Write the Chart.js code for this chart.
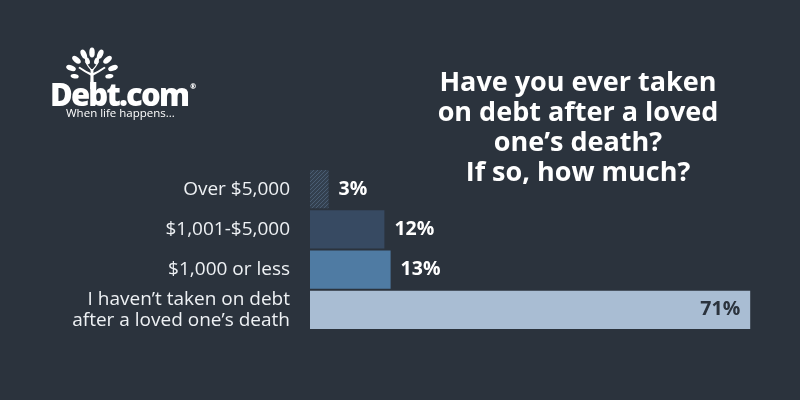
<!DOCTYPE html>
<html>
<head>
<meta charset="utf-8">
<script src="https://cdn.jsdelivr.net/npm/chart.js@4.4.0/dist/chart.umd.min.js"></script>
<style>
  html, body { margin: 0; padding: 0; background: #2b333d; }
  #wrap { position: relative; width: 800px; height: 400px; background: #2b333d; overflow: hidden; }
  #myChart { position: absolute; left: 0; top: 0; }
  .title {
    position: absolute; left: 413px; top: 66px; width: 330px;
    text-align: center; color: #ffffff;
    font: bold 27px "Open Sans", sans-serif; line-height: 30px;
  }
  .logo { position: absolute; left: 48px; top: 44px; width: 150px; color: #fff; font-family: "Open Sans", sans-serif; }
  .logo .name { position: absolute; left: 2px; top: 29px; font-weight: 800; font-size: 31px; letter-spacing: -1.8px; }
  .logo .name sup { font-size: 7px; vertical-align: top; position: relative; top: 9px; letter-spacing: 0; margin-left: 2px; }
  .logo .tag { position: absolute; left: 18px; top: 61px; font-size: 11.5px; white-space: nowrap; }
  .logo svg { position: absolute; left: 14px; top: 3px; }
</style>
</head>
<body>
<div id="wrap">
  <canvas id="myChart" width="800" height="400"></canvas>
  <div class="logo">
    <svg width="60" height="42" viewBox="0 0 60 46">
      <g fill="#fff">
        <path d="M28 46 L32 46 L31.5 24 L28.5 24 Z"/>
        <path d="M30 32 Q22 28 15 23 L16.5 21.5 Q23 26 30 29 Z"/>
        <path d="M30 32 Q38 28 45 23 L43.5 21.5 Q37 26 30 29 Z"/>
        <path d="M30 27 Q25 22 22 16 L23.5 15.5 Q26 21 30 25 Z"/>
        <path d="M30 27 Q35 22 38 16 L36.5 15.5 Q34 21 30 25 Z"/>
        <ellipse cx="30" cy="6" rx="3" ry="5.5"/>
        <ellipse cx="21" cy="8" rx="3" ry="5.5" transform="rotate(-25 21 8)"/>
        <ellipse cx="39" cy="8" rx="3" ry="5.5" transform="rotate(25 39 8)"/>
        <ellipse cx="13" cy="14" rx="3" ry="5.5" transform="rotate(-50 13 14)"/>
        <ellipse cx="47" cy="14" rx="3" ry="5.5" transform="rotate(50 47 14)"/>
        <ellipse cx="7" cy="23" rx="3" ry="5.5" transform="rotate(-70 7 23)"/>
        <ellipse cx="53" cy="23" rx="3" ry="5.5" transform="rotate(70 53 23)"/>
        <ellipse cx="25" cy="15" rx="2.4" ry="4" transform="rotate(-20 25 15)"/>
        <ellipse cx="35" cy="15" rx="2.4" ry="4" transform="rotate(20 35 15)"/>
        <ellipse cx="11" cy="32" rx="2.4" ry="4.5" transform="rotate(-80 11 32)"/>
        <ellipse cx="49" cy="32" rx="2.4" ry="4.5" transform="rotate(80 49 32)"/>
      </g>
    </svg>
    <div class="name">Debt.com<sup>®</sup></div>
    <div class="tag">When life happens...</div>
  </div>
  <div class="title">Have you ever taken<br>on debt after a loved<br>one’s death?<br>If so, how much?</div>
</div>
<script>
var categories = ['Over $5,000', '$1,001-$5,000', '$1,000 or less', ["I haven’t taken on debt", "after a loved one’s death"]];
var values = [3, 12, 13, 71];
var valueLabels = ['3%', '12%', '13%', '71%'];
var barColors = ['#3b4a5c', '#374a62', '#4f7ba3', '#a9bdd3'];

// hatched fill for the smallest bar
function HatchPattern() {
    var c = document.createElement('canvas');
    c.width = 4; c.height = 4;
    var x = c.getContext('2d');
    x.fillStyle = '#33404f';
    x.fillRect(0, 0, 4, 4);
    x.strokeStyle = '#4a5d73';
    x.lineWidth = 1;
    x.beginPath();
    x.moveTo(0, 4); x.lineTo(4, 0);
    x.moveTo(-1, 1); x.lineTo(1, -1);
    x.moveTo(3, 5); x.lineTo(5, 3);
    x.stroke();
    return x.createPattern(c, 'repeat');
}
barColors[0] = HatchPattern();

var valueLabelPlugin = {
    id: 'valueLabels',
    afterDatasetsDraw: function (chart) {
        var ctx = chart.ctx;
        var meta = chart.getDatasetMeta(0);
        ctx.save();
        ctx.font = 'bold 19.5px "Open Sans", sans-serif';
        ctx.textBaseline = 'middle';
        meta.data.forEach(function (bar, i) {
            if (i === values.length - 1) {
                ctx.fillStyle = '#2b333d';
                ctx.textAlign = 'right';
                ctx.fillText(valueLabels[i], bar.x - 10, bar.y);
            } else {
                ctx.fillStyle = '#ffffff';
                ctx.textAlign = 'left';
                ctx.fillText(valueLabels[i], bar.x + 10, bar.y);
            }
        });
        ctx.restore();
    }
};

var ctx = document.getElementById('myChart').getContext('2d');
var chart = new Chart(ctx, {
    type: 'bar',
    data: {
        labels: categories,
        datasets: [{
            data: values,
            backgroundColor: barColors,
            borderWidth: 0,
            barPercentage: 0.95,
            categoryPercentage: 1
        }]
    },
    options: {
        indexAxis: 'y',
        responsive: false,
        animation: false,
        layout: { padding: { top: 169, bottom: 70, right: 25, left: 0 } },
        plugins: {
            legend: { display: false },
            tooltip: { enabled: false }
        },
        scales: {
            x: {
                min: 0,
                max: 75,
                display: false
            },
            y: {
                grid: { display: false, drawTicks: false },
                border: { display: false },
                afterFit: function (scale) { scale.width = 310; },
                ticks: {
                    color: '#eef1f4',
                    padding: 20,
                    autoSkip: false,
                    font: { family: '"Open Sans", sans-serif', size: 19, lineHeight: 1.1 },
                    crossAlign: 'near'
                }
            }
        }
    },
    plugins: [valueLabelPlugin]
});
</script>
</body>
</html>
